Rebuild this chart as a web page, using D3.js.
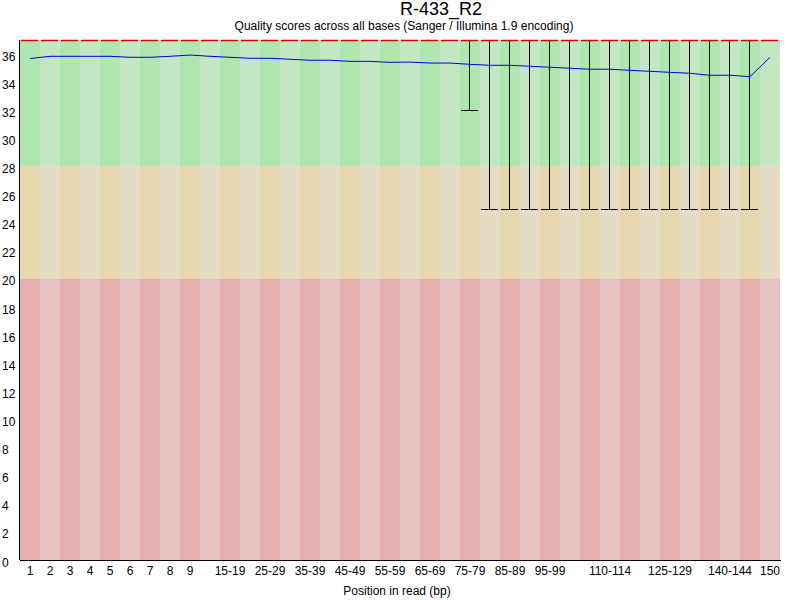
<!DOCTYPE html>
<html>
<head>
<meta charset="utf-8">
<script src="https://cdn.jsdelivr.net/npm/d3@7"></script>
<style>
  body { margin: 0; background: #fff; }
  svg text { font-family: "Liberation Sans", Arial, sans-serif; fill: #000; }
</style>
</head>
<body>
<div id="wrapper"></div>
<script>
const categories = ["1","2","3","4","5","6","7","8","9",
  "10-14","15-19","20-24","25-29","30-34","35-39","40-44","45-49","50-54","55-59",
  "60-64","65-69","70-74","75-79","80-84","85-89","90-94","95-99","100-104","105-109",
  "110-114","115-119","120-124","125-129","130-134","135-139","140-144","145-149","150"]

const shownLabels = ["1","2","3","4","5","6","7","8","9","15-19","25-29","35-39","45-49",
  "55-59","65-69","75-79","85-89","95-99","110-114","125-129","140-144","150"]

const means = [35.68, 35.84, 35.84, 35.84, 35.84, 35.77, 35.77, 35.84, 35.93, 35.84,
  35.77, 35.70, 35.70, 35.63, 35.56, 35.56, 35.48, 35.48, 35.41, 35.43,
  35.36, 35.36, 35.27, 35.20, 35.20, 35.13, 35.06, 34.99, 34.92, 34.92,
  34.84, 34.77, 34.70, 34.63, 34.49, 34.49, 34.39, 35.77]

const medians = categories.map(() => 37)
const upperQuartile = categories.map(() => 37)
const lowerQuartile = categories.map(() => 37)
const percentile90 = categories.map(() => 37)
const percentile10 = [37, 37, 37, 37, 37, 37, 37, 37, 37, 37,
  37, 37, 37, 37, 37, 37, 37, 37, 37, 37,
  37, 37, 32, 25, 25, 25, 25, 25, 25, 25,
  25, 25, 25, 25, 25, 25, 25, 37]

const yTicks = d3.range(0, 37, 2)
const zones = [
  {from: 28, to: 37, dark: "#afe6af", light: "#c3e6c3"},
  {from: 20, to: 28, dark: "#e6d7af", light: "#e6dcc3"},
  {from: 0, to: 20, dark: "#e6afaf", light: "#e6c3c3"}
]

const width = 800
const height = 600
const margin = {top: 40, right: 20, bottom: 40, left: 20}

const svg = d3.select("#wrapper")
  .append("svg")
    .attr("width", width)
    .attr("height", height)

const xScale = d3.scaleBand()
    .domain(categories)
    .range([margin.left, width - margin.right])

const yScale = d3.scaleLinear()
    .domain([0, 37])
    .range([height - margin.bottom, margin.top])

const bw = xScale.bandwidth()

// background bands, alternating shade per column
zones.forEach(z => {
  svg.append("g").selectAll("rect")
    .data(categories)
    .join("rect")
      .attr("x", d => xScale(d))
      .attr("width", bw)
      .attr("y", yScale(z.to))
      .attr("height", yScale(z.from) - yScale(z.to))
      .attr("fill", (d, i) => i % 2 === 0 ? z.dark : z.light)
      .attr("shape-rendering", "crispEdges")
})

const stats = categories.map((c, i) => ({
  c, p10: percentile10[i], p90: percentile90[i],
  q1: lowerQuartile[i], q3: upperQuartile[i], med: medians[i]
}))

// boxes (yellow interquartile)
svg.append("g").selectAll("rect")
  .data(stats.filter(d => d.q3 > d.q1))
  .join("rect")
    .attr("x", d => xScale(d.c) + 1)
    .attr("width", bw - 2)
    .attr("y", d => yScale(d.q3))
    .attr("height", d => yScale(d.q1) - yScale(d.q3))
    .attr("fill", "#eeee00")
    .attr("stroke", "#000")

// whiskers
const whiskers = svg.append("g")
    .attr("stroke", "#000")
    .attr("shape-rendering", "crispEdges")
const lowW = stats.filter(d => d.p10 < d.q1)
whiskers.selectAll(".wl")
  .data(lowW)
  .join("line")
    .attr("class", "wl")
    .attr("x1", d => xScale(d.c) + bw / 2 - 0.5)
    .attr("x2", d => xScale(d.c) + bw / 2 - 0.5)
    .attr("y1", d => yScale(d.q1))
    .attr("y2", d => yScale(d.p10))
whiskers.selectAll(".wc")
  .data(lowW)
  .join("line")
    .attr("class", "wc")
    .attr("x1", d => xScale(d.c) + 1)
    .attr("x2", d => xScale(d.c) + bw - 2)
    .attr("y1", d => yScale(d.p10) + 0.5)
    .attr("y2", d => yScale(d.p10) + 0.5)

// medians
svg.append("g").selectAll("line")
  .data(stats)
  .join("line")
    .attr("x1", d => xScale(d.c) + 1)
    .attr("x2", d => xScale(d.c) + bw - 2)
    .attr("y1", d => yScale(d.med) + 0.5)
    .attr("y2", d => yScale(d.med) + 0.5)
    .attr("stroke", "#e00000")
    .attr("stroke-width", 1.5)

// mean line
const lineGenerator = d3.line()
    .x((d, i) => xScale(categories[i]) + bw / 2)
    .y(d => yScale(d))

svg.append("path")
    .attr("d", lineGenerator(means))
    .attr("fill", "none")
    .attr("stroke", "#0000e6")
    .attr("stroke-width", 1)

// axes
const yAxis = svg.append("g")
    .attr("transform", `translate(${margin.left},0)`)
    .call(d3.axisLeft(yScale).tickValues(yTicks).tickSize(0).tickFormat(d3.format("d")))
yAxis.select(".domain").remove()
yAxis.selectAll("text")
    .attr("x", 2 - margin.left)
    .attr("dy", "6px")
    .attr("text-anchor", "start")
    .style("font-size", "12px")
    .style("font-family", "'Liberation Sans', Arial, sans-serif")

const xAxis = svg.append("g")
    .attr("transform", `translate(0,${height - margin.bottom})`)
    .call(d3.axisBottom(xScale).tickValues(shownLabels).tickSize(0))
xAxis.select(".domain").remove()
xAxis.selectAll("text")
    .attr("y", 15)
    .attr("dy", "0")
    .style("font-size", "12px")
    .style("font-family", "'Liberation Sans', Arial, sans-serif")

svg.append("line")
    .attr("x1", margin.left - 0.5).attr("x2", margin.left - 0.5)
    .attr("y1", margin.top).attr("y2", height - margin.bottom)
    .attr("stroke", "#000")
svg.append("line")
    .attr("x1", margin.left).attr("x2", width - margin.right + 1)
    .attr("y1", height - margin.bottom + 0.5).attr("y2", height - margin.bottom + 0.5)
    .attr("stroke", "#000")

// titles
svg.append("text")
    .attr("x", 441).attr("y", 15)
    .attr("text-anchor", "middle")
    .style("font-size", "18px")
    .text("R-433_R2")
svg.append("text")
    .attr("x", 404).attr("y", 30)
    .attr("text-anchor", "middle")
    .style("font-size", "12px")
    .text("Quality scores across all bases (Sanger / Illumina 1.9 encoding)")
svg.append("text")
    .attr("x", 397).attr("y", 595)
    .attr("text-anchor", "middle")
    .style("font-size", "12px")
    .text("Position in read (bp)")
</script>
</body>
</html>
